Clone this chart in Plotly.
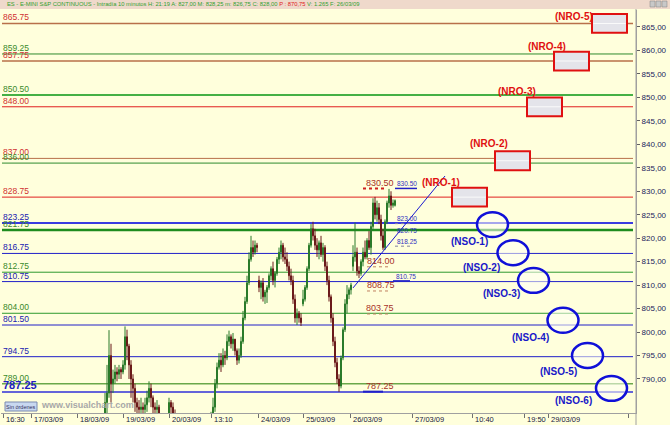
import plotly.graph_objects as go

# ---------------- data ----------------
first_slot = 52  # first 10-minute slot shown
opens = [776, 785, 787, 795, 789, 790, 791.5, 791, 792, 791.5, 793, 799, 797, 793, 790, 788, 785, 784,
         783.5, 784, 783.5, 784.5, 786, 788, 786, 784, 783.5, 784, 780, 777, 778, 776, 780, 785,
         784, 782.5, 779, 776, 774, 772, 770, 771, 768, 769, 771, 772, 771, 773, 772, 774, 775,
         776, 777, 778, 781, 784, 789, 792.5, 794, 793, 795, 794.5, 798, 799, 797.5, 798.5, 796,
         794, 795, 798, 803, 806.5, 810.5, 815.5, 818, 817, 818.5, 811, 809.5, 810.5, 807.5, 808.5,
         809.5, 812, 813.5, 811, 812.5, 815.5, 817, 818.5, 816, 815.5, 814, 812, 811, 807, 803,
         804, 803, 806, 807, 809.5, 813.5, 818.5, 822, 820.5, 818.5, 817.5, 819, 816.5, 818, 814,
         811, 807.5, 803, 798, 793.5, 790, 788.5, 794.5, 800.5, 806, 808, 809, 814, 816, 817, 813,
         812.5, 815, 817, 816, 819.5, 818, 822.5, 827.5, 825, 826.5, 824, 820.5, 818, 823.5, 827.5,
         829, 827, 827]
highs = [787, 793, 800.4, 797.5, 792, 793, 792.5, 793, 792.5, 794, 801.2, 800.5, 797.5, 794, 791, 789,
         786, 785.5, 786, 785, 786, 787.5, 789.5, 789, 786.5, 785, 785.5, 784.5, 781, 780, 780, 781,
         786, 785.5, 785, 783.5, 780, 778, 776, 774, 773, 772, 770, 772, 773, 774, 774, 775, 775,
         776, 777, 778, 779, 783, 786, 790, 793.5, 795.5, 795.5, 796.5, 796, 799.5, 800.3, 799.5,
         799.8, 798.5, 796.5, 796.5, 799, 804.5, 807.5, 812, 817, 820.5, 819.5, 819.5, 819, 812,
         811, 811.5, 809, 810, 812.5, 814, 815, 813, 816, 818, 819.5, 819, 818, 817, 815, 813.5,
         812, 808, 805, 804.5, 804, 809, 810, 814, 819, 823, 823.5, 822, 820, 819.5, 820.5, 819,
         818.5, 815, 812, 808, 804, 799, 794.5, 791, 795, 801, 807, 810, 809.5, 810.5, 818.5,
         823.3, 818, 814, 815.5, 818, 819.5, 820, 821.5, 823.5, 828.5, 828.8, 828, 827.5, 825, 822,
         824, 828, 830.5, 830, 828.25, 828.25]
lows = [772, 780, 786, 785, 787, 789, 789.5, 790, 790, 791, 792, 794, 790, 786, 785, 783, 782, 781,
        782, 781, 782.5, 783, 785, 784, 782, 781, 782, 779, 776, 775, 774, 775, 779.5, 782, 781,
        778, 775, 773, 771, 769, 768, 767, 766, 768, 769, 770, 770, 771, 771, 772, 773, 774, 775,
        777, 780, 783, 788, 792, 791.5, 792.5, 793, 794, 797, 796.5, 796, 795, 793, 793.3, 794.5,
        797.5, 802.5, 806, 810, 815, 816, 816.5, 817, 808.5, 807, 806.5, 806, 806.2, 809, 811,
        810, 809.5, 812, 814.5, 815.5, 815, 814.5, 813, 811, 810, 806, 802, 801.5, 802, 801.3,
        805.5, 806.5, 809, 813, 818, 819.5, 817.5, 816, 815.5, 816, 815, 813, 810, 806.5, 802,
        797, 792.5, 789, 787.25, 788, 794, 800, 804, 807, 808, 813, 815, 812, 811.5, 812, 814,
        815.5, 815.5, 817.5, 816.5, 822, 824, 823.5, 823, 819.5, 817.5, 817.5, 823, 826.5, 826,
        826.5, 826.75]
closes = [785, 787, 795, 789, 790, 791.5, 791, 792, 791.5, 793, 799, 797, 793, 790, 788, 785, 784,
          783.5, 784, 783.5, 784.5, 786, 788, 786, 784, 783.5, 784, 780, 777, 778, 776, 780, 785,
          784, 782.5, 779, 776, 774, 772, 770, 771, 768, 769, 771, 772, 771, 773, 772, 774, 775,
          776, 777, 778, 781, 784, 789, 792.5, 794, 793, 795, 794.5, 798, 799, 797.5, 798.5, 796,
          794, 795, 798, 803, 806.5, 810.5, 815.5, 818, 817, 818.5, 818, 809.5, 810.5, 807.5,
          808.5, 809.5, 812, 813.5, 811, 812.5, 815.5, 817, 818.5, 816, 815.5, 814, 812, 811, 807,
          803, 804, 803, 802, 807, 809.5, 813.5, 818.5, 822, 820.5, 818.5, 817.5, 819, 816.5, 818,
          814, 811, 807.5, 803, 798, 793.5, 790, 788.5, 794.5, 800.5, 806, 808, 809, 810, 816, 817,
          813, 812.5, 815, 817, 816, 819.5, 818, 822.5, 827.5, 825, 826.5, 824, 820.5, 818, 823.5,
          827.5, 829, 827, 827.5, 828]

tick_slots = [1, 15, 38, 61, 84, 105, 128.5, 151, 174.5, 205.5, 235.5, 261.5, 273.5, 313.5]
tick_labels = ["16:30", "17/03/09", "18/03/09", "19/03/09", "20/03/09", "13:10", "24/03/09",
               "25/03/09", "26/03/09", "27/03/09", "10:40", "19:50", "29/03/09", ""]

level_prices = [865.75, 859.25, 857.75, 850.50, 848.00, 837.00, 836.00, 828.75, 823.25, 821.75,
                816.75, 812.75, 810.75, 804.00, 801.50, 794.75, 789.00, 787.25]
level_texts = ["865.75", "859.25", "857.75", "850.50", "848.00", "837.00", "836.00", "828.75",
               "823.25", "821.75", "816.75", "812.75", "810.75", "804.00", "801.50", "794.75",
               "789.00", "787.25"]

y_ticks = [790, 795, 800, 805, 810, 815, 820, 825, 830, 835, 840, 845, 850, 855, 860, 865]
y_tick_texts = ["790,00", "795,00", "800,00", "805,00", "810,00", "815,00", "820,00", "825,00",
                "830,00", "835,00", "840,00", "845,00", "850,00", "855,00", "860,00", "865,00"]

nro_names = ["(NRO-1)", "(NRO-2)", "(NRO-3)", "(NRO-4)", "(NRO-5)"]
nro_levels = [828.75, 836.50, 848.00, 857.75, 865.75]
nso_names = ["(NSO-1)", "(NSO-2)", "(NSO-3)", "(NSO-4)", "(NSO-5)", "(NSO-6)"]
nso_levels = [823.25, 816.75, 810.75, 801.50, 794.75, 787.25]

price_marks_red = ["830.50", "814.00", "808.75", "803.75", "787.25"]
price_marks_blue = ["830.50", "823.00", "820.75", "818.25", "810.75"]

# ---------------- layout / styling ----------------
W, H = 670, 425
ML, MR, MT, MB = 1, 34, 10, 12
PW, PH = W - ML - MR, H - MT - MB
BG = "#FFFFDC"
FONT = "Liberation Sans, Arial, sans-serif"


def pxx(p):  # pixel x -> paper x
    return (p - ML) / PW


def pxy(p):  # pixel y -> paper y
    return (H - MB - p) / PH


level_line_colors = ["#B8704A", "#2E8B2E", "#B8704A", "#45B045", "#E02020", "#B8704A", "#2E8B2E",
                     "#E02020", "#3A3AE0", "#1E8C1E", "#2020C8", "#2E9A2E", "#2020C8", "#2E9A2E",
                     "#2020C8", "#2020C8", "#6AA84A", "#3030D8"]
level_line_widths = [1.5, 1, 1.5, 2, 1, 1, 1, 1, 2, 2.5, 1, 1, 1, 1, 1, 1, 1.5, 1.5]
level_label_colors = ["#D03030", "#3A8A2A", "#D03030", "#3A8A2A", "#D03030", "#D03030", "#3A8A2A",
                      "#D03030", "#2020B0", "#3A8A2A", "#2020B0", "#3A8A2A", "#2020B0", "#3A8A2A",
                      "#2020B0", "#2020B0", "#3A8A2A", "#2020C0"]

fig = go.Figure()

fig.add_trace(go.Candlestick(
    x=[first_slot + i for i in range(len(closes))],
    open=opens, high=highs, low=lows, close=closes,
    increasing=dict(line=dict(color="#2A7A2A", width=1), fillcolor="#2FA82F"),
    decreasing=dict(line=dict(color="#6A1A1A", width=1), fillcolor="#CC2222"),
    whiskerwidth=0, showlegend=False, hoverinfo="skip",
))

shapes = []
annots = []

# header band
shapes.append(dict(type="rect", xref="paper", yref="paper", x0=pxx(0), x1=pxx(W),
                   y0=pxy(9), y1=pxy(0), fillcolor="#EFD9CB", line=dict(width=0), layer="above"))
for k in range(3):
    shapes.append(dict(type="rect", xref="paper", yref="paper", x0=pxx(650 + 6 * k),
                       x1=pxx(655 + 6 * k), y0=pxy(7), y1=pxy(1), fillcolor="#C8C8C8",
                       line=dict(color="#808080", width=0.5), layer="above"))
annots.append(dict(
    xref="paper", yref="paper", x=pxx(5), y=pxy(4.5), xanchor="left", yanchor="middle",
    showarrow=False, font=dict(family=FONT, size=5.8, color="#30A030"),
    text=("ES - E-MINI S&amp;P CONTINUOUS - Intradía 10 minutos H: 21:19 A: 827,00 M: 828,25 "
          "m: 826,75 C: 828,00 <span style='color:#E02020'>P : 870,75</span> V: 1.265 F: 26/03/09")))

# right axis full-height line
shapes.append(dict(type="line", xref="paper", yref="paper", x0=1, x1=1, y0=pxy(H), y1=pxy(9),
                   line=dict(color="#A0A0A0", width=1)))

# level lines + labels
for p, t, c, w, lc in zip(level_prices, level_texts, level_line_colors, level_line_widths,
                          level_label_colors):
    shapes.append(dict(type="line", xref="paper", yref="y", x0=pxx(2), x1=pxx(633), y0=p, y1=p,
                       line=dict(color=c, width=w), layer="below"))
    big = t == "787.25"
    annots.append(dict(xref="paper", yref="y", x=pxx(2), y=p, xanchor="left", yanchor="bottom",
                       showarrow=False, text=f"<b>{t}</b>" if big else t, borderpad=0,
                       font=dict(family=FONT, size=11 if big else 8.5, color=lc)))

# trend line
shapes.append(dict(type="line", xref="x", yref="y", x0=176, y0=809.4, x1=222, y1=833.25,
                   line=dict(color="#1A1AD0", width=1)))

# price marks near last candles
red_pos = [(189.25, 831.76), (189.75, 815.2), (189.75, 810.03), (189.5, 805.06), (189.5, 788.5)]
blue_pos = [(202.75, 831.55), (202.75, 824.09), (202.75, 821.74), (202.75, 819.25), (202.25, 811.73)]
for t, (x, y) in zip(price_marks_red, red_pos):
    annots.append(dict(x=x, y=y, text=t, showarrow=False, xanchor="center", yanchor="middle",
                       font=dict(family=FONT, size=9, color="#A83228")))
for t, (x, y) in zip(price_marks_blue, blue_pos):
    annots.append(dict(x=x, y=y, text=t, showarrow=False, xanchor="center", yanchor="middle",
                       font=dict(family=FONT, size=6.5, color="#3030C0")))
mark_lines = [(181, 193, 830.6, "#D02020", "dot", 2), (197, 208, 830.6, "#2020C8", "solid", 1.5),
              (183, 195, 813.9, "#C08060", "dot", 1), (183, 195, 808.75, "#C08060", "dot", 1),
              (183, 195, 803.85, "#C08060", "dot", 1), (197, 205, 823.1, "#8080A0", "dot", 1),
              (197, 205, 818.3, "#8080A0", "dot", 1), (196, 204.5, 810.9, "#2020C8", "solid", 1.5),
              (181, 191, 787.3, "#2020C8", "solid", 2)]
for x0, x1, y, c, d, w in mark_lines:
    shapes.append(dict(type="line", x0=x0, x1=x1, y0=y, y1=y, line=dict(color=c, width=w, dash=d)))

# NRO boxes
nro_x0 = [225.5, 247, 263, 276.5, 295.5]
nro_lab = [(219.75, 831.97), (243.75, 840.28), (257.75, 851.15), (273, 860.74), (286.25, 867.13)]
for name, lvl, x0, (lx, ly) in zip(nro_names, nro_levels, nro_x0, nro_lab):
    shapes.append(dict(type="rect", x0=x0, x1=x0 + 17.5, y0=lvl - 2.0, y1=lvl + 2.0,
                       fillcolor="#E4E4EA", line=dict(color="#E01010", width=2), layer="above"))
    shapes.append(dict(type="line", x0=x0 + 0.6, x1=x0 + 16.9, y0=lvl, y1=lvl,
                       line=dict(color="#FAFAFA", width=1), layer="above"))
    annots.append(dict(x=lx, y=ly, text=f"<b>{name}</b>", showarrow=False,
                       font=dict(family=FONT, size=10, color="#E01010")))

# NSO ellipses
nso_cx = [245.75, 256, 266.25, 281, 293.25, 305.25]
nso_cy = [822.9, 816.9, 811.0, 802.5, 795.0, 788.0]
nso_lab = [(234.25, 819.19), (240, 813.65), (250.25, 808.11), (264.5, 798.94), (278.75, 791.49),
           (286.25, 785.31)]
for name, cx, cy, (lx, ly) in zip(nso_names, nso_cx, nso_cy, nso_lab):
    shapes.append(dict(type="circle", x0=cx - 7.75, x1=cx + 7.75, y0=cy - 2.65, y1=cy + 2.65,
                       fillcolor="rgba(255,255,245,0.55)", line=dict(color="#1010D8", width=2.5),
                       layer="above"))
    annots.append(dict(x=lx, y=ly, text=f"<b>{name}</b>", showarrow=False,
                       font=dict(family=FONT, size=10, color="#1818C8")))

# watermark + button
annots.append(dict(xref="paper", yref="paper", x=pxx(39), y=pxy(405), xanchor="left",
                   yanchor="middle", showarrow=False, text="<b>www.visualchart.com</b>",
                   font=dict(family=FONT, size=9, color="#A8A8A8")))
shapes.append(dict(type="rect", xref="paper", yref="paper", x0=pxx(5), x1=pxx(37), y0=pxy(411),
                   y1=pxy(402), fillcolor="#C8D8F0", line=dict(color="#7A8AB0", width=1),
                   layer="above"))
annots.append(dict(xref="paper", yref="paper", x=pxx(21), y=pxy(406.5), xanchor="center",
                   yanchor="middle", showarrow=False, text="Sin órdenes",
                   font=dict(family=FONT, size=5.5, color="#303060")))

# x tick labels (left aligned at tick)
for s, t in zip(tick_slots, tick_labels):
    annots.append(dict(x=s, y=pxy(419.5), yref="paper", xanchor="left", yanchor="middle",
                       xshift=1, showarrow=False, text=t,
                       font=dict(family=FONT, size=7.5, color="#202040")))

fig.update_layout(
    width=W, height=H, margin=dict(l=ML, r=MR, t=MT, b=MB, pad=0),
    paper_bgcolor=BG, plot_bgcolor=BG, showlegend=False,
    shapes=shapes, annotations=annots,
    xaxis=dict(range=[0, 317.5], rangeslider=dict(visible=False), showgrid=False,
               zeroline=False, tickvals=tick_slots, showticklabels=False, ticks="outside",
               ticklen=4, tickcolor="#707070", showline=True, linecolor="#A0A0A0", linewidth=1),
    yaxis=dict(range=[782.75, 868.62], side="right", tickvals=y_ticks, ticktext=y_tick_texts,
               ticks="outside", ticklen=3, tickcolor="#606060", showgrid=False, zeroline=False,
               showline=True, linecolor="#A0A0A0", linewidth=1,
               tickfont=dict(family=FONT, size=8, color="#1C1C5C")),
)

fig.write_html(
    "out.html",
    config={"displayModeBar": False, "staticPlot": True},
    post_script="document.body.style.margin='0';document.body.style.padding='0';"
                "document.body.style.overflow='hidden';"
                "document.body.style.background='" + BG + "';",
)
